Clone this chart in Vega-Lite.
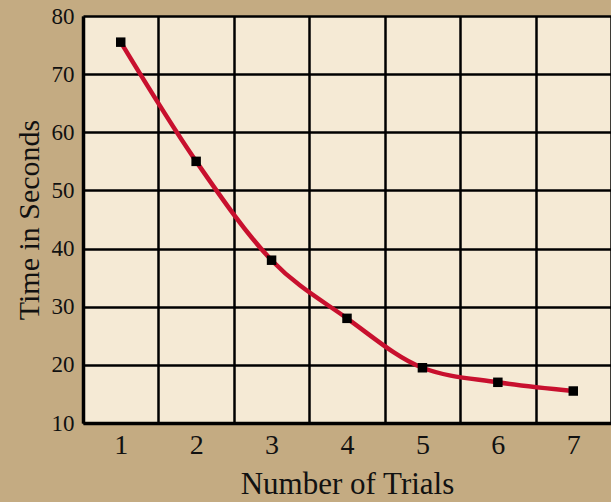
{
  "$schema": "https://vega.github.io/schema/vega-lite/v6.json",
  "width": 528,
  "height": 407,
  "autosize": {"type": "none"},
  "padding": {"left": 83, "top": 16, "right": 0, "bottom": 79},
  "background": "#C4AB82",
  "config": {
    "view": {"fill": "#F5EAD5", "stroke": null},
    "font": "Liberation Serif"
  },
  "data": {
    "values": [
      {"trial": 1, "time": 75.5},
      {"trial": 2, "time": 55},
      {"trial": 3, "time": 38},
      {"trial": 4, "time": 28},
      {"trial": 5, "time": 19.5},
      {"trial": 6, "time": 17},
      {"trial": 7, "time": 15.5}
    ]
  },
  "encoding": {
    "x": {
      "field": "trial",
      "type": "ordinal",
      "bandPosition": 0.5,
      "scale": {"type": "band", "paddingInner": 0, "paddingOuter": 0},
      "axis": {
        "title": "Number of Trials",
        "titleFontSize": 31,
        "titleFontWeight": "normal",
        "titleColor": "#111",
        "titlePadding": 10,
        "labelAngle": 0,
        "labelFontSize": 28,
        "labelColor": "#111",
        "labelPadding": 8,
        "tickBand": "extent",
        "ticks": false,
        "grid": true,
        "gridColor": "#000",
        "gridWidth": 2.5,
        "gridOpacity": 1,
        "domainColor": "#000",
        "domainWidth": 3.5
      }
    },
    "y": {
      "field": "time",
      "type": "quantitative",
      "scale": {"domain": [10, 80], "nice": false, "zero": false},
      "axis": {
        "title": "Time in Seconds",
        "titleFontSize": 30,
        "titleFontWeight": "normal",
        "titleColor": "#111",
        "titlePadding": 7,
        "values": [10, 20, 30, 40, 50, 60, 70, 80],
        "labelFontSize": 23,
        "labelColor": "#111",
        "labelPadding": 9,
        "ticks": false,
        "grid": true,
        "gridColor": "#000",
        "gridWidth": 2.5,
        "gridOpacity": 1,
        "domainColor": "#000",
        "domainWidth": 3.5
      }
    }
  },
  "layer": [
    {
      "mark": {"type": "line", "color": "#C8102E", "strokeWidth": 4.5, "interpolate": "monotone"}
    },
    {
      "mark": {"type": "square", "color": "#000", "opacity": 1, "filled": true, "size": 90}
    }
  ]
}
